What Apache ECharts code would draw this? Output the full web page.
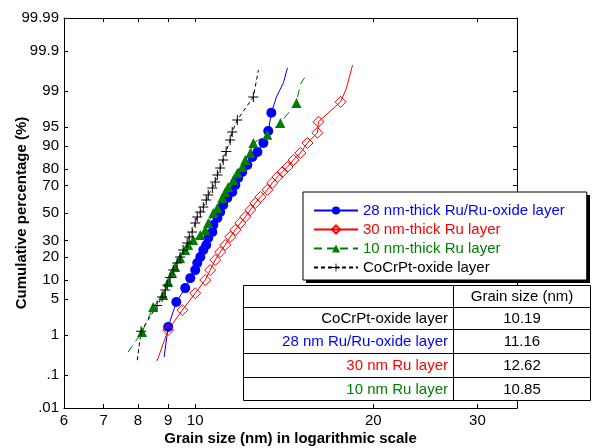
<!DOCTYPE html>
<html>
<head>
<meta charset="utf-8">
<script src="https://cdn.jsdelivr.net/npm/echarts@6/dist/echarts.min.js"></script>
<style>
html,body{margin:0;padding:0;background:#fff;}
#chart{width:592px;height:448px;}
</style>
</head>
<body>
<div id="chart"></div>
<script>
// ---------- data ----------
const xTickValues = [6, 7, 8, 9, 10, 20, 30];
const xTickLabels = ['6', '7', '8', '9', '10', '20', '30'];
const yTickPct = [0.01, 0.1, 1, 5, 10, 20, 30, 50, 70, 80, 90, 95, 99, 99.9, 99.99];
const yTickLabels = ['.01', '.1', '1', '5', '10', '20', '30', '50', '70', '80', '90', '95', '99', '99.9', '99.99'];

const seriesNames = ['28 nm-thick Ru/Ru-oxide layer', '30 nm-thick Ru layer', '10 nm-thick Ru layer', 'CoCrPt-oxide layer'];

// 28 nm Ru/Ru-oxide (blue)
const blueHeadSize = [8.86];
const blueHeadPct = [0.30];
const blueSize = [9.00, 9.29, 9.62, 9.81, 10.0, 10.08, 10.2, 10.32, 10.44, 10.52, 10.69, 10.73, 10.90, 11.02, 11.15, 11.33, 11.55, 11.69, 11.82, 12.01, 12.25, 12.49, 12.74, 13.04, 13.29, 13.45];
const bluePct = [1.48, 4.47, 7.6, 10.7, 13.8, 17.0, 20.1, 24.0, 27.1, 31.7, 35.8, 40.9, 46.2, 50.8, 56.1, 61.3, 65.6, 70.3, 74.8, 78.3, 82.0, 85.7, 87.8, 90.9, 94.1, 97.2];
const blueTailSize = [13.72, 14.1, 14.32];
const blueTailPct = [98.66, 99.35, 99.72];

// 30 nm Ru (red)
const redHeadSize = [8.62];
const redHeadPct = [0.24];
const redSize = [9.0, 9.51, 10.0, 10.4, 10.6, 10.81, 11.02, 11.24, 11.46, 11.69, 11.92, 12.15, 12.39, 12.64, 12.89, 13.24, 13.50, 13.77, 14.04, 14.32, 14.66, 15.06, 15.48, 16.09, 16.16, 17.61];
const redPct = [1.28, 3.2, 6.3, 10.05, 13.8, 18.5, 22.8, 27.1, 32.4, 37.3, 42.4, 47.0, 52.3, 57.6, 62.0, 67.0, 71.7, 75.4, 78.3, 81.0, 84.4, 87.4, 90.9, 93.7, 95.9, 98.3];
const redTailSize = [18.0, 18.45];
const redTailPct = [99.1, 99.76];

// 10 nm Ru (green)
const greenHeadSize = [7.70];
const greenHeadPct = [0.40];
const greenSize = [8.13, 8.49, 8.83, 9.0, 9.14, 9.25, 9.43, 9.62, 9.73, 9.92, 10.2, 10.4, 10.52, 10.73, 10.9, 11.11, 11.24, 11.37, 11.60, 11.78, 12.01, 12.15, 12.39, 12.54, 13.24, 13.93, 14.83];
const greenPct = [1.16, 3.64, 5.88, 9.4, 12.6, 15.1, 19.5, 24.0, 27.1, 30.3, 33.7, 37.3, 42.4, 50.0, 53.8, 61.3, 65.6, 69.0, 73.6, 77.7, 81.0, 84.4, 87.4, 90.9, 93.2, 95.7, 98.2];
const greenTailSize = [15.06, 15.42];
const greenTailPct = [99.3, 99.58];

// CoCrPt-oxide (black)
const blackHeadSize = [7.98];
const blackHeadPct = [0.25];
const blackSize = [8.10, 8.62, 8.79, 8.90, 8.97, 9.07, 9.18, 9.32, 9.43, 9.54, 9.69, 9.77, 9.88, 10.0, 10.08, 10.2, 10.32, 10.44, 10.52, 10.69, 10.81, 10.90, 11.02, 11.15, 11.28, 11.46, 11.55, 11.78, 12.54];
const blackPct = [1.2, 3.9, 5.45, 7.1, 8.5, 10.9, 13.8, 17.0, 20.1, 24.0, 28.3, 32.4, 35.8, 42.4, 47.0, 50.8, 54.6, 59.8, 63.4, 68.3, 72.3, 76.6, 80.5, 84.4, 88.0, 91.8, 93.9, 96.2, 98.66];
const blackTailSize = [12.79];
const blackTailPct = [99.68];

// table
const tableHeader = ['', 'Grain size (nm)'];
const tableRowLabels = ['CoCrPt-oxide layer', '28 nm Ru/Ru-oxide layer', '30 nm Ru layer', '10 nm Ru layer'];
const tableRowValues = ['10.19', '11.16', '12.62', '10.85'];
const tableRowColors = ['#000000', '#0000ff', '#ff0000', '#008000'];

// ---------- helpers ----------
function probit(p) {
  const a = [-3.969683028665376e+01, 2.209460984245205e+02, -2.759285104469687e+02, 1.383577518672690e+02, -3.066479806614716e+01, 2.506628277459239e+00];
  const b = [-5.447609879822406e+01, 1.615858368580409e+02, -1.556989798598866e+02, 6.680131188771972e+01, -1.328068155288572e+01];
  const c = [-7.784894002430293e-03, -3.223964580411365e-01, -2.400758277161838e+00, -2.549732539343734e+00, 4.374664141464968e+00, 2.938163982698783e+00];
  const d = [7.784695709041462e-03, 3.224671290700398e-01, 2.445134137142996e+00, 3.754408661907416e+00];
  const pl = 0.02425, ph = 1 - pl;
  let q, r;
  if (p < pl) {
    q = Math.sqrt(-2 * Math.log(p));
    return (((((c[0]*q+c[1])*q+c[2])*q+c[3])*q+c[4])*q+c[5]) / ((((d[0]*q+d[1])*q+d[2])*q+d[3])*q+1);
  }
  if (p > ph) {
    q = Math.sqrt(-2 * Math.log(1 - p));
    return -(((((c[0]*q+c[1])*q+c[2])*q+c[3])*q+c[4])*q+c[5]) / ((((d[0]*q+d[1])*q+d[2])*q+d[3])*q+1);
  }
  q = p - 0.5; r = q * q;
  return (((((a[0]*r+a[1])*r+a[2])*r+a[3])*r+a[4])*r+a[5])*q / (((((b[0]*r+b[1])*r+b[2])*r+b[3])*r+b[4])*r+1);
}
const tx = v => Math.log10(v);
const ty = p => probit(p / 100);

function build(hs, hp, ms, mp, ts, tp) {
  const out = [];
  hs.forEach((s, i) => out.push({ value: [tx(s), ty(hp[i])], symbol: 'none' }));
  ms.forEach((s, i) => out.push({ value: [tx(s), ty(mp[i])] }));
  ts.forEach((s, i) => out.push({ value: [tx(s), ty(tp[i])], symbol: 'none' }));
  return out;
}
function nearestLabel(v, vals, labels) {
  let best = 0, bd = Infinity;
  vals.forEach((t, i) => { const dd = Math.abs(t - v); if (dd < bd) { bd = dd; best = i; } });
  return labels[best];
}

const FONT = '"Liberation Sans", Arial, sans-serif';
const xMin = tx(6), xMax = tx(35);
const yMin = ty(0.01), yMax = ty(99.99);
const xCustom = xTickValues.map(tx);
const yCustom = yTickPct.map(ty);

const plusPath = 'path://M4.5,0 h1 v4.5 h4.5 v1 h-4.5 v4.5 h-1 v-4.5 h-4.5 v-1 h4.5 z';

// legend shadow + table graphic
const G = [];
G.push({ type: 'rect', z: 3, shape: { x: 306, y: 195, width: 284, height: 88 }, style: { fill: '#000' } });
const T = { x: 243, y: 285, w: 347, colX: 453, rows: [285, 307, 329, 353, 377, 400] };
G.push({ type: 'rect', z: 100, shape: { x: T.x + 0.5, y: T.y + 0.5, width: T.w, height: T.rows[5] - T.y }, style: { fill: '#fff', stroke: '#000', lineWidth: 1 } });
G.push({ type: 'line', z: 101, shape: { x1: T.colX + 0.5, y1: T.y, x2: T.colX + 0.5, y2: T.rows[5] }, style: { stroke: '#000', lineWidth: 1 } });
for (let i = 1; i < 5; i++) {
  G.push({ type: 'line', z: 101, shape: { x1: T.x, y1: T.rows[i] + 0.5, x2: T.x + T.w, y2: T.rows[i] + 0.5 }, style: { stroke: '#000', lineWidth: 1 } });
}
G.push({ type: 'text', z: 102, style: { text: tableHeader[1], x: 522, y: (T.rows[0] + T.rows[1]) / 2 + 1, align: 'center', verticalAlign: 'middle', font: '15px ' + FONT, fill: '#000' } });
tableRowLabels.forEach((lab, i) => {
  const cy = (T.rows[i + 1] + T.rows[i + 2]) / 2 + 1;
  G.push({ type: 'text', z: 102, style: { text: lab, x: 448, y: cy, align: 'right', verticalAlign: 'middle', font: '15px ' + FONT, fill: tableRowColors[i] } });
  G.push({ type: 'text', z: 102, style: { text: tableRowValues[i], x: 522, y: cy, align: 'center', verticalAlign: 'middle', font: '15px ' + FONT, fill: '#000' } });
});

const axisCommon = {
  type: 'value',
  axisLine: { show: true, onZero: false, lineStyle: { color: '#000', width: 1 } },
  splitLine: { show: false }
};

const option = {
  animation: false,
  backgroundColor: '#fff',
  textStyle: { fontFamily: FONT },
  grid: { left: 64, right: 75, top: 18, bottom: 40, containLabel: false, outerBoundsMode: 'none' },
  xAxis: [
    Object.assign({}, axisCommon, {
      min: xMin, max: xMax, position: 'bottom',
      name: 'Grain size (nm) in logarithmic scale', nameLocation: 'middle', nameGap: 23, nameMoveOverlap: false,
      nameTextStyle: { fontSize: 15, fontWeight: 'bold', color: '#000', fontFamily: FONT },
      axisTick: { show: true, inside: true, length: 4, customValues: xCustom, lineStyle: { color: '#000' } },
      axisLabel: { show: true, customValues: xCustom, margin: 5, fontSize: 15, color: '#000', fontFamily: FONT,
        formatter: v => nearestLabel(v, xCustom, xTickLabels) }
    }),
    Object.assign({}, axisCommon, {
      min: xMin, max: xMax, position: 'top',
      axisTick: { show: true, inside: true, length: 4, customValues: xCustom, lineStyle: { color: '#000' } },
      axisLabel: { show: false }
    })
  ],
  yAxis: [
    Object.assign({}, axisCommon, {
      min: yMin, max: yMax, position: 'left',
      name: 'Cumulative percentage (%)', nameLocation: 'middle', nameGap: 35, nameMoveOverlap: false,
      nameTextStyle: { fontSize: 15, fontWeight: 'bold', color: '#000', fontFamily: FONT },
      axisTick: { show: true, inside: true, length: 4, customValues: yCustom, lineStyle: { color: '#000' } },
      axisLabel: { show: true, customValues: yCustom, margin: 5, fontSize: 15, color: '#000', fontFamily: FONT,
        formatter: v => nearestLabel(v, yCustom, yTickLabels) }
    }),
    Object.assign({}, axisCommon, {
      min: yMin, max: yMax, position: 'right',
      axisTick: { show: true, inside: true, length: 4, customValues: yCustom, lineStyle: { color: '#000' } },
      axisLabel: { show: false }
    })
  ],
  legend: {
    orient: 'vertical',
    left: 303, top: 192,
    padding: [11, 22, 5, 10],
    itemGap: 4,
    itemWidth: 44, itemHeight: 10,
    backgroundColor: '#fff',
    borderColor: '#000', borderWidth: 1,
    z: 4,
    textStyle: { fontSize: 15, fontFamily: FONT, lineHeight: 15 },
    data: seriesNames.map((n, i) => ({ name: n, textStyle: { color: ['#0000ff', '#ff0000', '#008000', '#000000'][i] } }))
  },
  graphic: G,
  series: [
    {
      name: seriesNames[0], type: 'line', data: build(blueHeadSize, blueHeadPct, blueSize, bluePct, blueTailSize, blueTailPct),
      symbol: 'circle', symbolSize: 10, showAllSymbol: true,
      lineStyle: { color: '#0000ff', width: 1 }, itemStyle: { color: '#0000ff' }, z: 2
    },
    {
      name: seriesNames[1], type: 'line', data: build(redHeadSize, redHeadPct, redSize, redPct, redTailSize, redTailPct),
      symbol: 'diamond', symbolSize: 11, showAllSymbol: true,
      lineStyle: { color: '#ff0000', width: 1 }, itemStyle: { color: 'rgba(255,255,255,0)', borderColor: '#ff0000', borderWidth: 1 }, z: 2
    },
    {
      name: seriesNames[2], type: 'line', data: build(greenHeadSize, greenHeadPct, greenSize, greenPct, greenTailSize, greenTailPct),
      symbol: 'triangle', symbolSize: 10, showAllSymbol: true,
      lineStyle: { color: '#008000', width: 1, type: [8, 5] }, itemStyle: { color: '#008000' }, z: 2
    },
    {
      name: seriesNames[3], type: 'line', data: build(blackHeadSize, blackHeadPct, blackSize, blackPct, blackTailSize, blackTailPct),
      symbol: plusPath, symbolSize: 10, showAllSymbol: true,
      lineStyle: { color: '#000000', width: 1, type: [4, 3] }, itemStyle: { color: '#000000' }, z: 2
    }
  ]
};

const chart = echarts.init(document.getElementById('chart'), null, { renderer: 'canvas' });
chart.setOption(option);
</script>
</body>
</html>
